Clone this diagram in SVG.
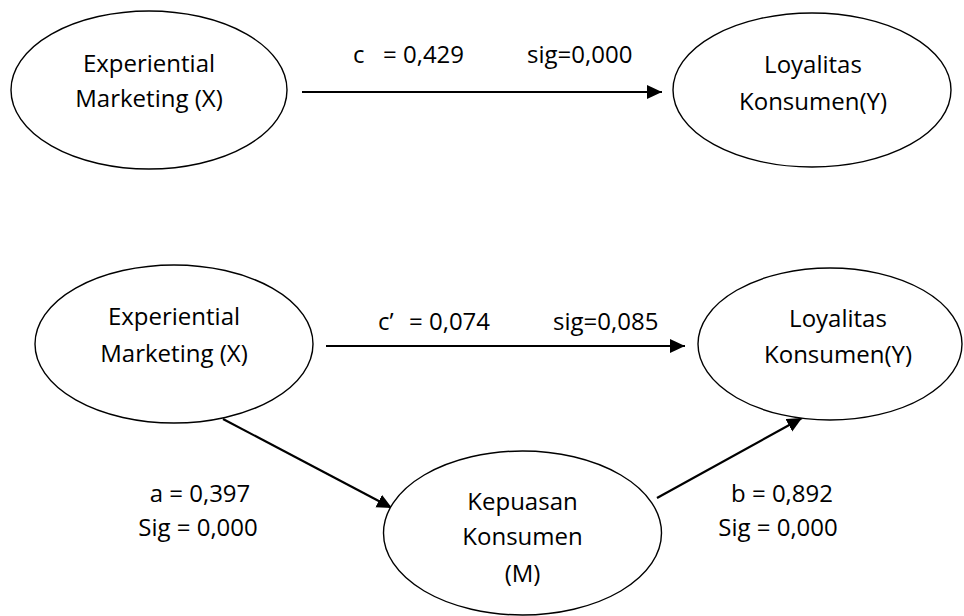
<svg xmlns="http://www.w3.org/2000/svg" width="964" height="616" viewBox="0 0 964 616">
<style>
.n{fill:#fff;stroke:#000;stroke-width:1.4}
.t{font-family:"Open Sans","Liberation Sans",sans-serif;font-size:24px;fill:#000}
.m{text-anchor:middle}
.c{stroke:#000;stroke-width:2.2;fill:none;marker-end:url(#ah)}
</style>
<defs>
<marker id="ah" markerUnits="userSpaceOnUse" markerWidth="16" markerHeight="15" refX="15" refY="7" orient="auto">
<path d="M0,0 L15,7 L0,14 z" fill="#000"/>
</marker>
</defs>
<rect width="964" height="616" fill="#fff"/>
<g id="connectors">
<line class="c" x1="302" y1="92" x2="662" y2="92"/>
<line class="c" x1="326" y1="346" x2="685" y2="346"/>
<line class="c" x1="223" y1="419" x2="392" y2="508"/>
<line class="c" x1="657" y1="498" x2="802" y2="418"/>
</g>
<g id="x1">
<ellipse class="n" cx="149" cy="90" rx="138" ry="79"/>
<text class="t m" x="149" y="72">Experiential</text>
<text class="t m" x="149" y="107">Marketing (X)</text>
</g>
<g id="y1">
<ellipse class="n" cx="812" cy="90" rx="139" ry="77"/>
<text class="t m" x="813" y="73">Loyalitas</text>
<text class="t m" x="813" y="110">Konsumen(Y)</text>
</g>
<g id="x2">
<ellipse class="n" cx="174" cy="344" rx="139" ry="79"/>
<text class="t m" x="174" y="325">Experiential</text>
<text class="t m" x="174" y="362">Marketing (X)</text>
</g>
<g id="y2">
<ellipse class="n" cx="830" cy="344" rx="132" ry="76"/>
<text class="t m" x="838" y="327">Loyalitas</text>
<text class="t m" x="838" y="363">Konsumen(Y)</text>
</g>
<g id="m">
<ellipse class="n" cx="522.5" cy="533" rx="139" ry="82"/>
<text class="t m" x="522.5" y="510">Kepuasan</text>
<text class="t m" x="522.5" y="545">Konsumen</text>
<text class="t m" x="522.5" y="582">(M)</text>
</g>
<g id="labels">
<text class="t" x="353" y="63">c</text>
<text class="t" x="383" y="63">= 0,429</text>
<text class="t" x="527" y="63">sig=0,000</text>
<text class="t" x="378" y="330">c’</text>
<text class="t" x="409" y="330">= 0,074</text>
<text class="t" x="553" y="330">sig=0,085</text>
<text class="t m" x="200" y="502">a = 0,397</text>
<text class="t m" x="198" y="536">Sig = 0,000</text>
<text class="t m" x="782" y="502">b = 0,892</text>
<text class="t m" x="778" y="536">Sig = 0,000</text>
</g>
</svg>
